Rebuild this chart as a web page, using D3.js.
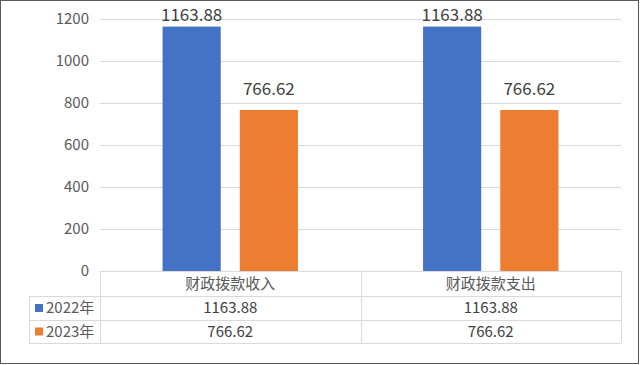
<!DOCTYPE html>
<html>
<head>
<meta charset="utf-8">
<script src="https://cdn.jsdelivr.net/npm/d3@7"></script>
<style>
  body { margin: 0; background: #fff; }
  svg { display: block; font-family: "Noto Sans CJK SC", "Noto Sans", sans-serif; }
</style>
</head>
<body>
<svg id="chart" width="640" height="365"></svg>
<script>
// chart data
var categories = ["财政拨款收入", "财政拨款支出"];
var seriesNames = ["2022年", "2023年"];
var values2022 = [1163.88, 1163.88];
var values2023 = [766.62, 766.62];
var yTicks = [0, 200, 400, 600, 800, 1000, 1200];
var colors = ["#4472C4", "#ED7D31"];

var series = [values2022, values2023];

var svg = d3.select("#chart");
var plot = {left: 100, right: 621, top: 19, bottom: 271};

// outer frame
svg.append("rect")
    .attr("x", 0.5).attr("y", 0.5)
    .attr("width", 638).attr("height", 363)
    .attr("fill", "#fff")
    .attr("stroke", "#595959")
    .attr("stroke-width", 1);

var x = d3.scaleBand()
    .domain(categories)
    .range([plot.left, plot.right]);

var y = d3.scaleLinear()
    .domain([0, 1200])
    .range([plot.bottom, plot.top]);

var xs = d3.scaleBand()
    .domain(d3.range(series.length))
    .range([0, x.bandwidth()])
    .paddingInner(0.247)
    .paddingOuter(0.81);

// gridlines
svg.append("g").selectAll("line")
    .data(yTicks)
  .enter().append("line")
    .attr("x1", plot.left).attr("x2", plot.right)
    .attr("y1", function(d) { return Math.round(y(d)) + 0.5; })
    .attr("y2", function(d) { return Math.round(y(d)) + 0.5; })
    .attr("stroke", "#d9d9d9")
    .attr("stroke-width", 1);

// y tick labels
svg.append("g").selectAll("text")
    .data(yTicks)
  .enter().append("text")
    .attr("x", 89)
    .attr("y", function(d) { return y(d); })
    .attr("dy", ".35em")
    .attr("text-anchor", "end")
    .attr("font-size", 15)
    .attr("fill", "#595959")
    .text(function(d) { return d; });

// bars
series.forEach(function(vals, s) {
  var g = svg.append("g");
  g.selectAll("rect")
      .data(vals)
    .enter().append("rect")
      .attr("x", function(d, i) { return x(categories[i]) + xs(s); })
      .attr("y", function(d) { return y(d); })
      .attr("width", xs.bandwidth())
      .attr("height", function(d) { return y(0) - y(d); })
      .attr("fill", colors[s]);

  // labels sit above the bar, pushed down when they would leave the chart
  g.selectAll("text")
      .data(vals)
    .enter().append("text")
      .attr("x", function(d, i) { return x(categories[i]) + xs(s) + xs.bandwidth() / 2; })
      .attr("y", function(d) { return Math.max(21, y(d) - 15); })
      .attr("text-anchor", "middle")
      .attr("font-size", 17)
      .attr("fill", "#404040")
      .text(function(d) { return d.toFixed(2); });
});

// data table under the axis
var rowY = [271, 296, 320, 343];
var tableLeft = 29;
var border = "#d9d9d9";
var tbl = svg.append("g");

// horizontal lines
tbl.append("line")
    .attr("x1", plot.left).attr("x2", plot.right)
    .attr("y1", rowY[0] + 0.5).attr("y2", rowY[0] + 0.5)
    .attr("stroke", border);
rowY.slice(1).forEach(function(ry) {
  tbl.append("line")
      .attr("x1", tableLeft).attr("x2", plot.right)
      .attr("y1", ry + 0.5).attr("y2", ry + 0.5)
      .attr("stroke", border);
});

// vertical lines
tbl.append("line")
    .attr("x1", tableLeft + 0.5).attr("x2", tableLeft + 0.5)
    .attr("y1", rowY[1]).attr("y2", rowY[3])
    .attr("stroke", border);
categories.concat([null]).forEach(function(c, i) {
  var vx = i < categories.length ? x(c) : plot.right;
  tbl.append("line")
      .attr("x1", Math.round(vx) + 0.5).attr("x2", Math.round(vx) + 0.5)
      .attr("y1", rowY[0]).attr("y2", rowY[3])
      .attr("stroke", border);
});

// header
tbl.selectAll(".head")
    .data(categories)
  .enter().append("text")
    .attr("class", "head")
    .attr("x", function(d) { return x(d) + x.bandwidth() / 2; })
    .attr("y", (rowY[0] + rowY[1]) / 2)
    .attr("dy", ".35em")
    .attr("text-anchor", "middle")
    .attr("font-size", 15)
    .attr("fill", "#595959")
    .text(function(d) { return d; });

// rows
series.forEach(function(vals, s) {
  var cy = (rowY[s + 1] + rowY[s + 2]) / 2;
  tbl.append("rect")
      .attr("x", 35).attr("y", cy - 4)
      .attr("width", 8).attr("height", 8)
      .attr("fill", colors[s]);
  tbl.append("text")
      .attr("x", 46).attr("y", cy)
      .attr("dy", ".35em")
      .attr("font-size", 15)
      .attr("fill", "#595959")
      .text(seriesNames[s]);
  tbl.selectAll(".v" + s)
      .data(vals)
    .enter().append("text")
      .attr("x", function(d, i) { return x(categories[i]) + x.bandwidth() / 2; })
      .attr("y", cy)
      .attr("dy", ".35em")
      .attr("text-anchor", "middle")
      .attr("font-size", 15)
      .attr("fill", "#404040")
      .text(function(d) { return d.toFixed(2); });
});
</script>
</body>
</html>
